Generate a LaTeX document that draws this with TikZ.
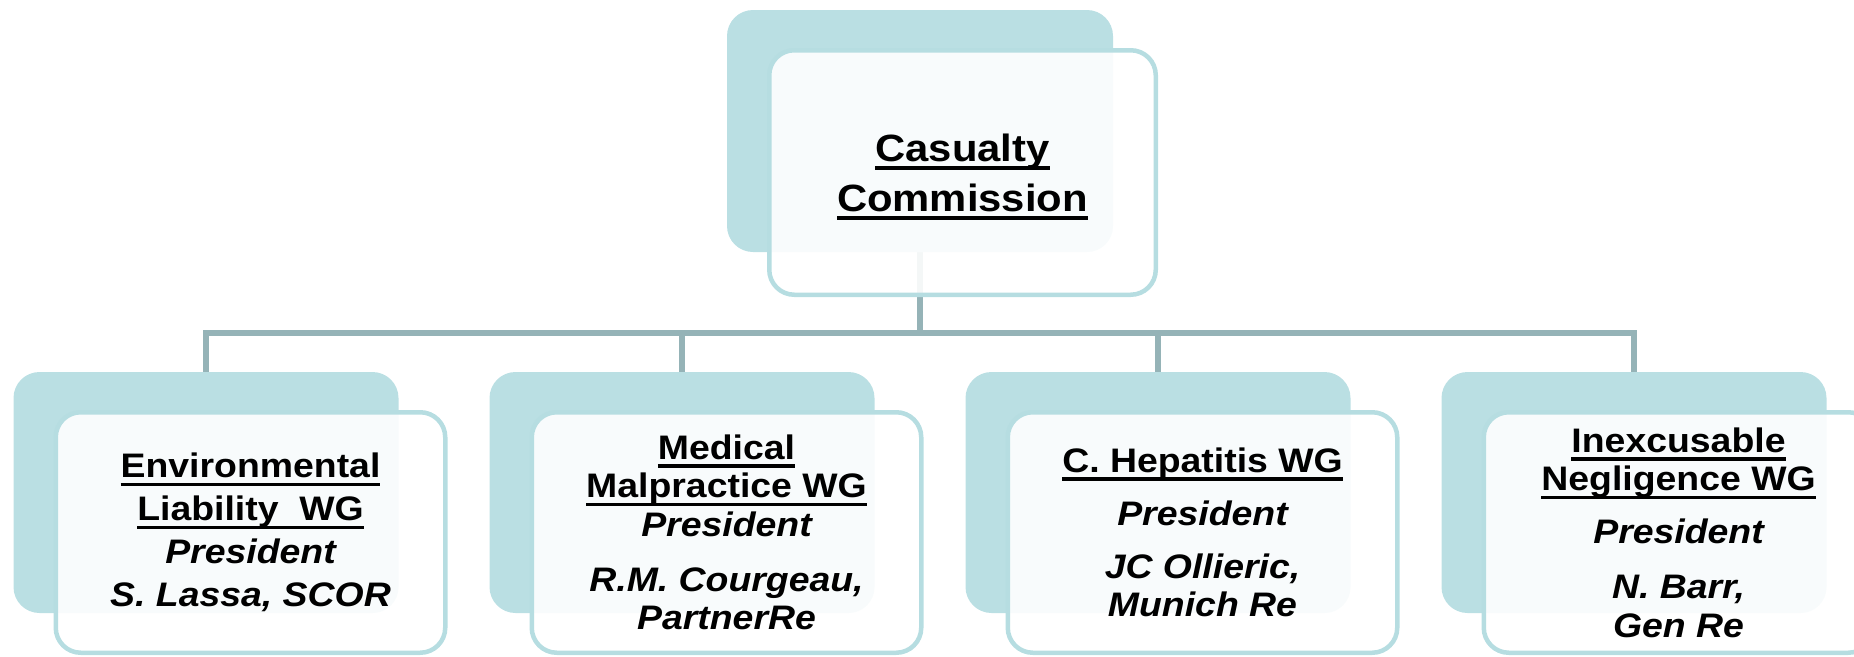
\documentclass[tikz,border=0pt]{standalone}
\usepackage{fontspec}
\setmainfont{Liberation Sans}[FakeStretch=1.1]
\usetikzlibrary{backgrounds}
\definecolor{boxteal}{RGB}{186,223,227}
\definecolor{rimteal}{RGB}{182,221,225}
\definecolor{linkgray}{RGB}{149,179,183}
\newcommand{\ulin}[1]{\setbox0=\hbox{#1}\rlap{\smash{\rule[-8.5pt]{\wd0}{3.5pt}}}\box0}
\tikzset{
  backbox/.style={fill=boxteal, rounded corners=26pt, inner sep=0pt,
    minimum width=385pt, minimum height=241pt},
  frontbox/.style={draw=rimteal, line width=4.5pt, fill=white, fill opacity=0.9,
    text opacity=1, rounded corners=25pt, inner sep=0pt, align=center,
    minimum width=389.5pt, minimum height=240.5pt,
    font=\bfseries\fontsize{34}{38.5}\selectfont},
  link/.style={draw=linkgray, line width=6pt}
}

\begin{document}
\begin{tikzpicture}[x=1pt,y=-1pt]
\newcommand{\rowy}{492.5}
\useasboundingbox (0,0) rectangle (1854,656);

\node[backbox, minimum width=386pt, minimum height=242pt] (topback) at (920,131) {};
\node[frontbox, shift={(42.5,41.5)}, minimum width=386.5pt, minimum height=244.5pt,
  font=\bfseries\fontsize{38}{50}\selectfont] (topfront) at (topback)
  {\ulin{Casualty}\\ \ulin{Commission}};

\node[backbox] (envback) at (206,\rowy) {};
\node[frontbox, shift={(44.5,40)}, font=\bfseries\fontsize{34}{43}\selectfont]
  (envfront) at (envback)
  {\ulin{Environmental}\\ \ulin{Liability\ \ WG}\\ \itshape President\\ \itshape S. Lassa, SCOR};

\node[backbox] (medback) at (682,\rowy) {};
\node[frontbox, shift={(44.5,40)}] (medfront) at (medback)
  {\ulin{Medical}\\ \ulin{Malpractice WG}\\ \itshape President\\[16.5pt]
   \itshape R.M. Courgeau,\\ \itshape PartnerRe};

\node[backbox] (hepback) at (1158,\rowy) {};
\node[frontbox, shift={(44.5,40)}] (hepfront) at (hepback)
  {\ulin{C. Hepatitis WG}\\[14.5pt] \itshape President\\[14.5pt]
   \itshape JC Ollieric,\\ \itshape Munich Re};

\node[backbox] (negback) at (1634,\rowy) {};
\node[frontbox, shift={(44.5,40)}] (negfront) at (negback)
  {\ulin{Inexcusable}\\ \ulin{Negligence WG}\\[14.5pt] \itshape President\\[16.5pt]
   \itshape N. Barr,\\ \itshape Gen Re};

% connectors go behind the boxes
\begin{pgfonlayer}{background}
\coordinate (bus) at (920,333);
\draw[link] (topback.south) -- (bus);
\draw[link] (envback.north) |- (bus) -| (negback.north);
\draw[link] (medback.north) -- (medback.north |- bus);
\draw[link] (hepback.north) -- (hepback.north |- bus);
\end{pgfonlayer}
\end{tikzpicture}
\end{document}
